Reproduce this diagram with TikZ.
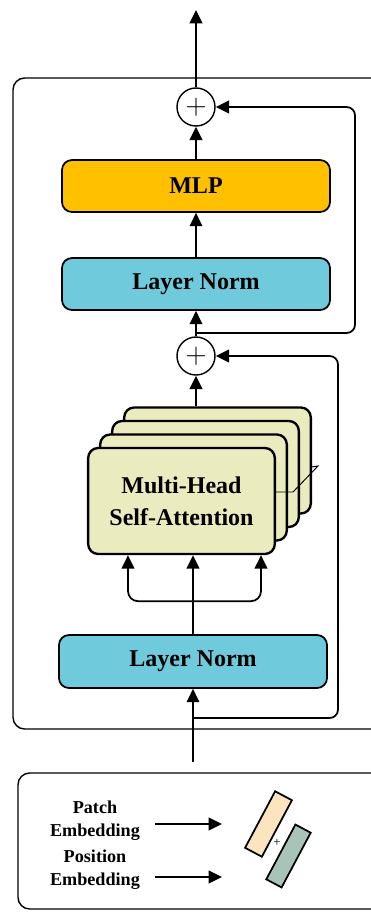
\documentclass[tikz,border=0pt]{standalone}
\usepackage{fontspec}
\setmainfont{Liberation Serif}
\usetikzlibrary{arrows.meta,calc}
\definecolor{mlpfill}{HTML}{FFC000}
\definecolor{normfill}{HTML}{6FCBDC}
\definecolor{attfill}{HTML}{EBEBC0}
\definecolor{patchfill}{HTML}{FCE4BE}
\definecolor{posfill}{HTML}{A8C4B8}
\tikzset{
  wire/.style={draw=black, line width=1.5pt},
  flow/.style={wire, -{Triangle[length=0.4cm,width=0.38cm]}},
  block/.style={draw=black, line width=1.5pt, rounded corners=0.3cm, minimum width=8.04cm, minimum height=1.56cm, font=\fontsize{20.5}{24}\selectfont\bfseries},
  head/.style={draw=black, line width=2pt, fill=attfill, rounded corners=0.3cm, minimum width=5.6cm, minimum height=3.18cm},
  addop/.style={circle, draw=black, line width=1.2pt, fill=white, minimum size=1.14cm, inner sep=0pt, font=\fontsize{24}{24}\selectfont},
  frame/.style={draw=black, line width=1.2pt, rounded corners=0.35cm},
  lab/.style={font=\fontsize{15.5}{19.6}\selectfont\bfseries, align=center},
  emb/.style={draw=black, line width=1.5pt, rotate=62, inner sep=0pt},
}

\begin{document}
\begin{tikzpicture}[x=0.03cm,y=-0.03cm]
  \useasboundingbox (0,0) rectangle (371,912);
  % encoder frame and embedding panel
  \draw[frame] (13,78) rectangle (400,729);
  \draw[frame] (18,773) rectangle (400,909);

  \node[addop] (add1) at (196,107) {$+$};
  \node[block, fill=mlpfill] (mlp) at (196,186) {MLP};
  \node[block, fill=normfill] (norm1) at (196,284) {Layer Norm};
  \node[addop] (add2) at (196,356) {$+$};
  % heads, back to front
  \foreach \k in {3,2,1}
    \node[head] (head\k) at ($(181.5,501)+(12*\k,-13.5*\k)$) {};
  \node[head, align=center, font=\fontsize{20.5}{27}\selectfont\bfseries] (mhsa) at (181.5,501) {Multi-Head\\Self-Attention};
  \node[block, fill=normfill, minimum height=1.59cm] (norm2) at (193,661.5) {Layer Norm};

  \coordinate (out) at (196,10);
  \coordinate (in) at (193,762);
  \coordinate (tap1) at (196,333);
  \coordinate (tap2) at (193,718);

  \draw[flow] (add1) -- (out);
  \draw[flow] (mlp) -- (add1);
  \draw[flow] (norm1) -- (mlp);
  \draw[flow] (add2) -- (norm1);
  \draw[flow] (head3.north -| add2) -- (add2);
  \draw[flow] (in) -- (norm2);
  \draw[flow] (norm2.north) -- (norm2.north |- mhsa.south);
  \draw[wire, {Triangle[length=0.4cm,width=0.38cm]}-{Triangle[length=0.4cm,width=0.38cm]}, rounded corners=0.3cm]
    ($(mhsa.south west)+(41,0)$) -- ++(0,46) -- ($(mhsa.south east)+(-15,46)$) -- ($(mhsa.south east)+(-15,0)$);

  % residual paths
  \draw[flow, rounded corners=0.25cm] (tap1) -- ++(159,0) |- (add1.east);
  \draw[flow, rounded corners=0.25cm] (tap2) -- ++(145,0) |- (add2.east);
  \draw[line width=0.8pt] ($(mhsa.east)+(0,-9)$) -- (293,492) -- (318,466) -- (311,467);

  % embeddings
  \node[lab] (patch) at (95,821) {Patch\\Embedding};
  \node[lab] (pos) at (95,870) {Position\\Embedding};
  \coordinate (pa) at (155,824);
  \coordinate (pb) at (222,824);
  \coordinate (qa) at (155,877);
  \coordinate (qb) at (222,877);
  \draw[flow] (pa) -- (pb);
  \draw[flow] (qa) -- (qb);
  \node[emb, fill=patchfill, minimum width=1.92cm, minimum height=0.57cm] (pvec) at (268.5,824) {};
  \node[emb, fill=posfill, minimum width=1.86cm, minimum height=0.52cm] (qvec) at (288.5,856) {};
  \node[font=\fontsize{11}{11}\selectfont] (sum) at (277,843) {+};
\end{tikzpicture}
\end{document}
